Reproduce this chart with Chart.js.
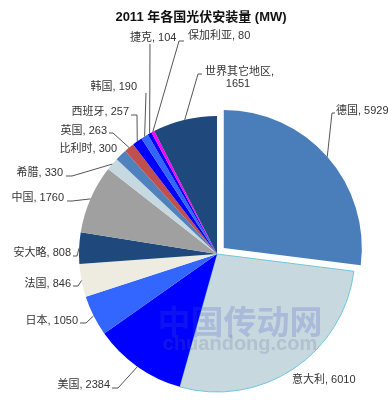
<!DOCTYPE html>
<html lang="zh">
<head>
  <meta charset="UTF-8">
  <title>2011 年各国光伏安装量</title>
  <script src="https://cdn.jsdelivr.net/npm/chart.js"></script>
  <style>
    html, body { margin: 0; padding: 0; background: #fff; }
    #wrap { width: 388px; height: 400px; }
  </style>
</head>
<body>
  <div id="wrap"><canvas id="grafico"></canvas></div>

  <script>
    const titulo = '2011 年各国光伏安装量 (MW)';
    const paises = ['德国','意大利','美国','日本','法国','安大略','中国','希腊','比利时','英国','西班牙','韩国','捷克','保加利亚','世界其它地区'];
    const instalado = [5929, 6010, 2384, 1050, 846, 808, 1760, 330, 300, 263, 257, 190, 104, 80, 1651];
    const colores = ['#4a7ebb','#c8d8df','#0000ff','#3366ff','#eeece1','#1f497d','#a0a0a0','#c6d9e0','#4f81bd','#c0504d','#0000ff','#3366ff','#0000ff','#ff00ff','#1f497d'];

    // posicion de cada etiqueta: texto (x, y, align) y puntos de la linea guia
    const etiquetas = [
      { x: 336, y: 111, align: 'left',  pts: [[335, 113], [332, 113]] },
      { x: 292, y: 380, align: 'left',  pts: null },
      { x: 110, y: 385, align: 'right', pts: [[112, 388], [118, 388]] },
      { x: 78,  y: 321, align: 'right', pts: [[80, 323], [86, 323]] },
      { x: 71,  y: 284, align: 'right', pts: [[73, 286], [78, 286]] },
      { x: 71,  y: 253, align: 'right', pts: [[73, 256], [77, 256]] },
      { x: 64,  y: 198, align: 'right', pts: [[67, 201], [72, 201]] },
      { x: 63,  y: 173, align: 'right', pts: [[66, 176], [72, 176]] },
      { x: 117, y: 149, align: 'right', pts: null },
      { x: 107, y: 131, align: 'right', pts: [[109, 133], [113, 133]] },
      { x: 129, y: 112, align: 'right', pts: [[131, 115], [137, 115]] },
      { x: 137, y: 87,  align: 'right', pts: [[146, 93]] },
      { x: 130, y: 38,  align: 'left',  pts: [[150, 44]] },
      { x: 188, y: 36,  align: 'left',  pts: [[184, 41], [179, 41]] },
      { x: 205, y: 72,  align: 'left',  pts: [[202, 74], [198, 74]], wrap: true }
    ];

    const fuente = '"Liberation Sans", Arial, "Noto Sans CJK SC", sans-serif';

    const etiquetasPlugin = {
      id: 'etiquetas',
      afterDatasetsDraw(chart) {
        const ctx = chart.ctx;
        const arcos = chart.getDatasetMeta(0).data;
        ctx.save();

        // marca de agua
        ctx.textAlign = 'center';
        ctx.textBaseline = 'middle';
        ctx.font = 'bold 33px "Noto Sans CJK SC", sans-serif';
        ctx.fillStyle = 'rgba(60, 80, 200, 0.22)';
        ctx.fillText('中国传动网', 240, 321);
        ctx.font = 'bold 20px ' + fuente;
        ctx.fillStyle = 'rgba(90, 100, 150, 0.2)';
        ctx.fillText('chuandong.com', 240, 344);

        // titulo
        ctx.font = 'bold 13px ' + fuente;
        ctx.fillStyle = '#111';
        ctx.fillText(titulo, 201, 17);

        ctx.font = '11px ' + fuente;
        ctx.fillStyle = '#333';
        ctx.strokeStyle = '#555';
        ctx.lineWidth = 1;

        arcos.forEach((arc, i) => {
          const p = arc.getProps(['x', 'y', 'startAngle', 'endAngle', 'outerRadius']);
          const mid = (p.startAngle + p.endAngle) / 2;
          // chart.js v4 desplaza el arco offset/4
          const off = (arc.options.offset || 0) / 4;
          const ex = p.x + Math.cos(mid) * (p.outerRadius + off);
          const ey = p.y + Math.sin(mid) * (p.outerRadius + off);
          const e = etiquetas[i];

          if (e.pts) {
            ctx.beginPath();
            ctx.moveTo(e.pts[0][0], e.pts[0][1]);
            for (let k = 1; k < e.pts.length; k++) ctx.lineTo(e.pts[k][0], e.pts[k][1]);
            ctx.lineTo(ex, ey);
            ctx.stroke();
          }

          ctx.textAlign = e.align;
          if (e.wrap) {
            ctx.fillText(paises[i] + ',', e.x, e.y);
            ctx.textAlign = 'center';
            ctx.fillText(String(instalado[i]), e.x + 33, e.y + 12);
          } else {
            ctx.fillText(paises[i] + ', ' + instalado[i], e.x, e.y);
          }
        });
        ctx.restore();
      }
    };

    new Chart(document.getElementById('grafico'), {
      type: 'pie',
      data: {
        labels: paises,
        datasets: [{
          data: instalado,
          backgroundColor: colores,
          borderColor: paises.map((p, i) => i === 1 ? '#6fc6dc' : 'rgba(0,0,0,0)'),
          borderWidth: paises.map((p, i) => i === 1 ? 1 : 0),
          offset: paises.map((p, i) => i === 0 ? 36 : 0),
          hoverOffset: 0
        }]
      },
      options: {
        responsive: true,
        maintainAspectRatio: false,
        animation: false,
        radius: 138,
        layout: { padding: { left: 52, right: 6, top: 112, bottom: 4 } },
        plugins: {
          legend: { display: false },
          tooltip: { enabled: false }
        }
      },
      plugins: [etiquetasPlugin]
    });
  </script>
</body>
</html>
